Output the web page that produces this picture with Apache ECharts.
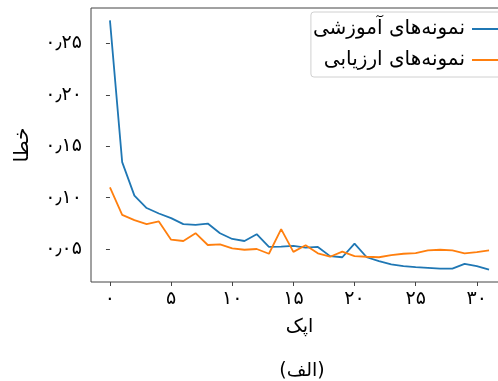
<!DOCTYPE html>
<html><head><meta charset="utf-8">
<script src="https://cdn.jsdelivr.net/npm/echarts@6/dist/echarts.min.js"></script>
<style>html,body{margin:0;padding:0;background:#fff}#c{width:498px;height:381px}</style>
</head><body><div id="c"></div>
<script>
const epochs = Array.from({length: 32}, (_, i) => i);
const trainLoss = [0.2725,0.1346,0.102,0.0899,0.0846,0.0801,0.0742,0.0735,0.0748,0.0654,0.0598,0.0578,0.0644,0.052,0.0523,0.053,0.0513,0.052,0.0431,0.042,0.0552,0.042,0.0382,0.035,0.0333,0.0324,0.0317,0.031,0.031,0.0356,0.0333,0.030];
const valLoss = [0.110,0.0833,0.0781,0.0742,0.0768,0.0591,0.0578,0.0654,0.0539,0.0546,0.0507,0.0493,0.05,0.0454,0.0693,0.0472,0.0536,0.0458,0.0425,0.0474,0.0431,0.0425,0.042,0.0441,0.0454,0.0461,0.0487,0.0493,0.0487,0.0458,0.047,0.0487];
const xTicks = [0,5,10,15,20,25,30];
const yTicks = [0.05,0.10,0.15,0.20,0.25];
const seriesNames = ['نمونه‌های آموزشی','نمونه‌های ارزیابی'];
const xName = 'اپک', yName = 'خطا', caption = '(الف)';

const fa = s => String(s).replace(/[0-9]/g, d => '۰۱۲۳۴۵۶۷۸۹'[d]).replace('.', '٫');
const FONT = 'DejaVu Sans';
const chart = echarts.init(document.getElementById('c'), null, {renderer: 'canvas'});
chart.setOption({
  animation: false,
  backgroundColor: '#fff',
  textStyle: {fontFamily: FONT},
  grid: {left: 91, top: 8, width: 417, height: 274, containLabel: false, outerBoundsMode: 'none', show: true, borderColor: '#444', borderWidth: 1, backgroundColor: 'transparent'},
  legend: {
    right: -14, top: 12, orient: 'vertical', align: 'right',
    backgroundColor: '#fff', borderColor: '#d0d0d0', borderWidth: 1, borderRadius: 3,
    padding: [7, 14, 7, 2], itemGap: 11, itemWidth: 26, itemHeight: 2, icon: 'rect',
    textStyle: {fontFamily: FONT, fontSize: 20, color: '#000', padding: [0, 2, 0, 0]},
    data: seriesNames
  },
  xAxis: {
    type: 'value', min: -1.55, max: 32.55,
    axisLine: {show: false}, splitLine: {show: false},
    axisTick: {show: true, length: 4, lineStyle: {color: '#444'}, customValues: xTicks},
    axisLabel: {fontFamily: FONT, fontSize: 19, color: '#000', margin: 8, customValues: xTicks, formatter: v => fa(v)},
    name: xName, nameLocation: 'middle', nameGap: 36,
    nameTextStyle: {fontFamily: FONT, fontSize: 19, color: '#000'}
  },
  yAxis: {
    type: 'value', min: 0.0179, max: 0.2846,
    axisLine: {show: false}, splitLine: {show: false},
    axisTick: {show: true, length: 4, lineStyle: {color: '#444'}, customValues: yTicks},
    axisLabel: {fontFamily: FONT, fontSize: 19, color: '#000', margin: 9, customValues: yTicks, formatter: v => fa(v.toFixed(2))},
    name: yName, nameLocation: 'middle', nameGap: 58, nameRotate: 90,
    nameTextStyle: {fontFamily: FONT, fontSize: 20, color: '#000'}
  },
  title: {
    text: caption, left: 297, top: 357, textAlign: 'center',
    textStyle: {fontFamily: FONT, fontSize: 19, fontWeight: 'normal', color: '#000'}
  },
  series: [
    {name: seriesNames[0], type: 'line', data: epochs.map((e, i) => [e, trainLoss[i]]), showSymbol: false, lineStyle: {width: 1.8, color: '#1f77b4'}, itemStyle: {color: '#1f77b4'}},
    {name: seriesNames[1], type: 'line', data: epochs.map((e, i) => [e, valLoss[i]]), showSymbol: false, lineStyle: {width: 1.8, color: '#ff7f0e'}, itemStyle: {color: '#ff7f0e'}}
  ]
});
</script></body></html>
